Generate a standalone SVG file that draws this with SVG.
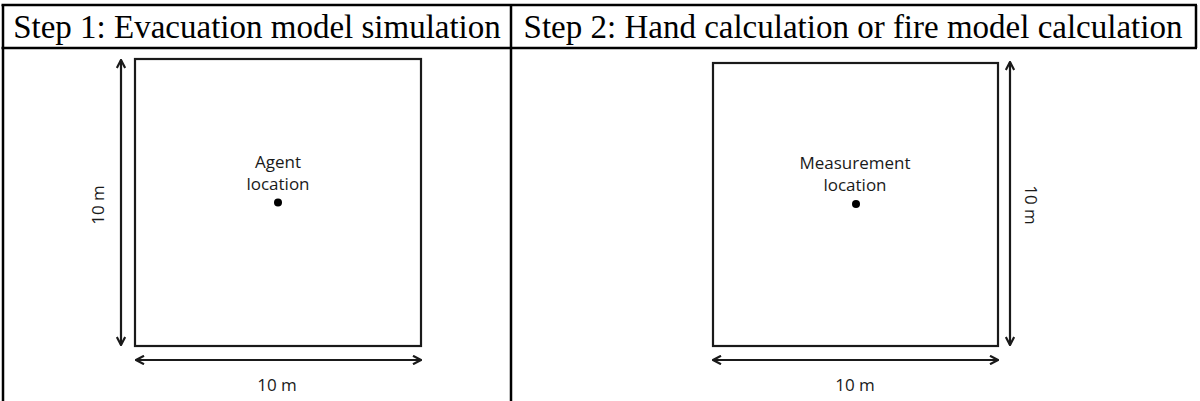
<svg xmlns="http://www.w3.org/2000/svg" width="1200" height="401" viewBox="0 0 1200 401">
<style>
.tbl{stroke:#000;stroke-width:2.5;fill:none}
.hdr{font-family:"Liberation Serif","Times New Roman",serif;font-size:33px;fill:#000;text-anchor:middle}
.lbl{font-family:"Open Sans","Noto Sans",sans-serif;font-size:17px;fill:#1a1a1a;text-anchor:middle}
.room{fill:#fff;stroke:#1a1a1a;stroke-width:2.2}
.dim{stroke:#1a1a1a;stroke-width:2.2;fill:none;marker-start:url(#ah);marker-end:url(#ah)}
</style>
<defs>
<marker id="ah" viewBox="0 0 10 10" refX="9" refY="5" markerWidth="10" markerHeight="10" markerUnits="userSpaceOnUse" orient="auto-start-reverse">
<path d="M1,0.8 L9,5 L1,9.2" fill="none" stroke="#1a1a1a" stroke-width="2.2"/>
</marker>
</defs>
<rect width="1200" height="401" fill="#fff"/>
<g id="table">
<line class="tbl" x1="1.5" y1="5" x2="1197" y2="5"/>
<line class="tbl" x1="1.5" y1="48" x2="1197" y2="48"/>
<line class="tbl" x1="3" y1="5" x2="3" y2="401"/>
<line class="tbl" x1="511" y1="5" x2="511" y2="401"/>
<line class="tbl" x1="1196" y1="5" x2="1196" y2="48"/>
<text class="hdr" x="257" y="38">Step 1: Evacuation model simulation</text>
<text class="hdr" x="853" y="38">Step 2: Hand calculation or fire model calculation</text>
</g>
<g id="step1-room">
<rect class="room" x="135" y="59" width="286" height="287"/>
<text class="lbl" x="278" y="168">Agent</text>
<text class="lbl" x="278" y="190">location</text>
<circle cx="278" cy="202.5" r="4" fill="#000"/>
</g>
<g id="step2-room">
<rect class="room" x="713" y="63" width="285" height="283"/>
<text class="lbl" x="855" y="169">Measurement</text>
<text class="lbl" x="855" y="191">location</text>
<circle cx="856" cy="204" r="4" fill="#000"/>
</g>
<g id="connectors">
<line class="dim" x1="121" y1="60" x2="121" y2="345"/>
<line class="dim" x1="136" y1="360" x2="421" y2="360"/>
<line class="dim" x1="1010" y1="62" x2="1010" y2="345"/>
<line class="dim" x1="713" y1="360" x2="998" y2="360"/>
</g>
<g id="dimension-labels">
<text class="lbl" x="277" y="391">10 m</text>
<text class="lbl" x="104" y="205" transform="rotate(-90 104 205)">10 m</text>
<text class="lbl" x="855" y="391">10 m</text>
<text class="lbl" x="1025" y="205" transform="rotate(90 1025 205)">10 m</text>
</g>
</svg>
